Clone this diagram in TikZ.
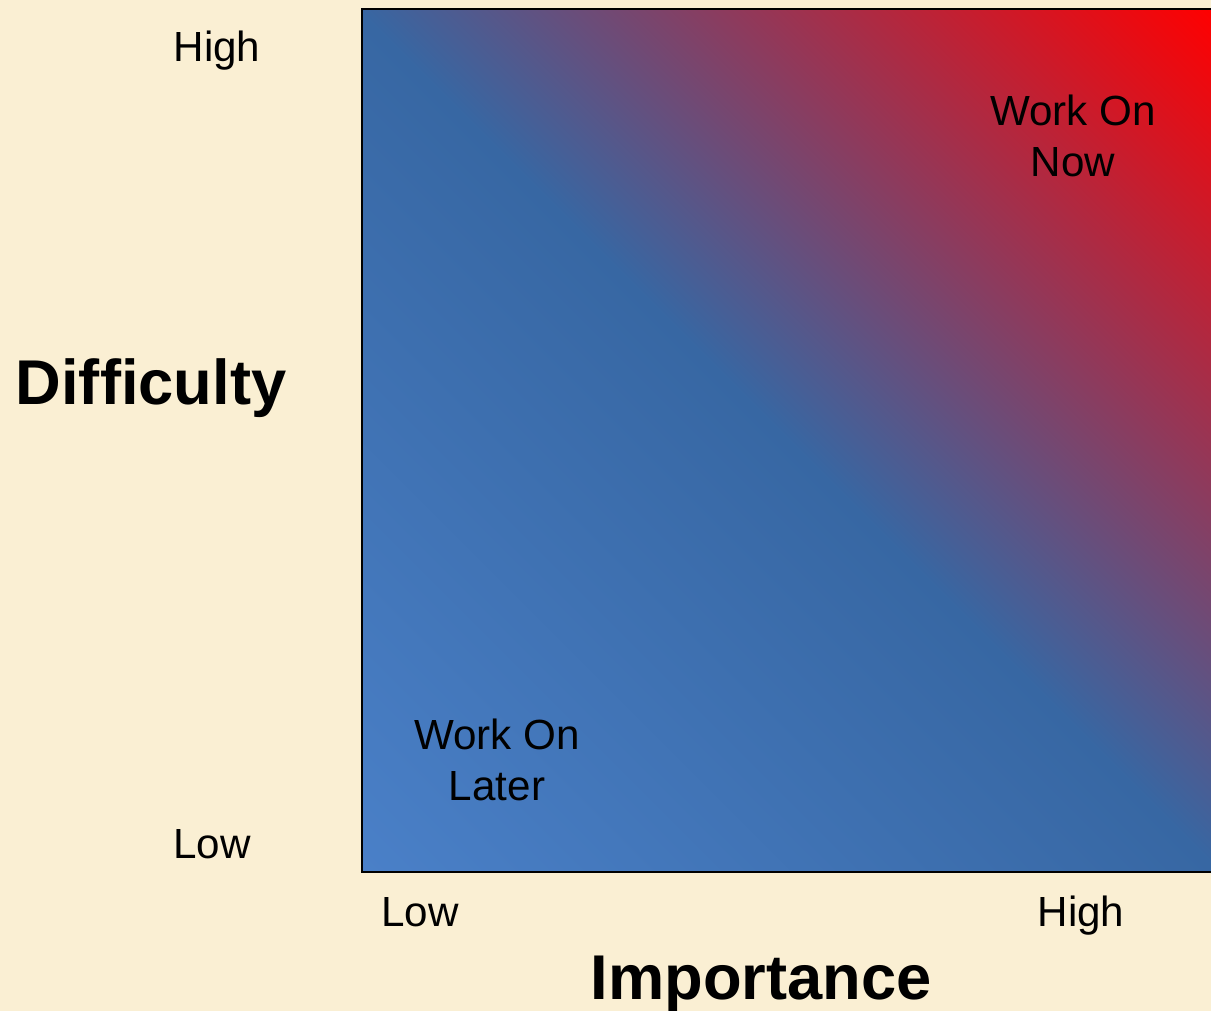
\documentclass[tikz,border=0pt]{standalone}
\usepackage{fontspec}
\setmainfont{Liberation Sans}
\usepackage{xcolor}
\usepackage{tikz}
\usetikzlibrary{positioning}

\definecolor{parchment}{HTML}{FAEFD3}
\definecolor{lowblue}{HTML}{4A80C8}
\definecolor{midblue}{HTML}{3767A3}
\definecolor{hotred}{HTML}{FF0000}

\pgfdeclareverticalshading{priority}{100bp}{%
  color(0bp)=(lowblue); color(14.5bp)=(lowblue);
  color(50bp)=(midblue);
  color(85.5bp)=(hotred); color(100bp)=(hotred)}

\begin{document}
\begin{tikzpicture}
                    [
                        x=0.02cm, y=-0.02cm,
                        ticklabel/.style={font=\fontsize{24}{29.5}\selectfont, anchor=base},
                        axislabel/.style={font=\fontsize{36}{40}\selectfont\bfseries, anchor=base},
                        zonelabel/.style={font=\fontsize{24}{29.5}\selectfont, align=center}
                    ]

                    % Hintergrund
                    \fill[parchment] (0,0) rectangle (1211,1011);
                    \useasboundingbox (0,0) rectangle (1211,1011);

                    % Matrix-Feld
                    \coordinate (sw) at (362,872);
                    \coordinate (ne) at (1214,9);
                    \shade[shading=priority, shading angle=-45]
                        (sw) rectangle (ne);
                    \draw[line width=1.4pt] (sw) rectangle (ne);

                    % Achsen
                    \node[ticklabel] (dhigh) at (217,61) {High};
                    \node[ticklabel] (dlow) at (212,858) {Low};
                    \node[axislabel] (diff) at (151,404) {Difficulty};
                    \node[ticklabel] (ilow) at (420,926) {Low};
                    \node[ticklabel] (ihigh) at (1081,926) {High};
                    \node[axislabel] (imp) at (761,999) {Importance};

                    % Bereiche
                    \node[zonelabel] (now) at (1073,136) {Work On\\Now};
                    \node[zonelabel] (later) at (497,760) {Work On\\Later};
                \end{tikzpicture}
\end{document}
